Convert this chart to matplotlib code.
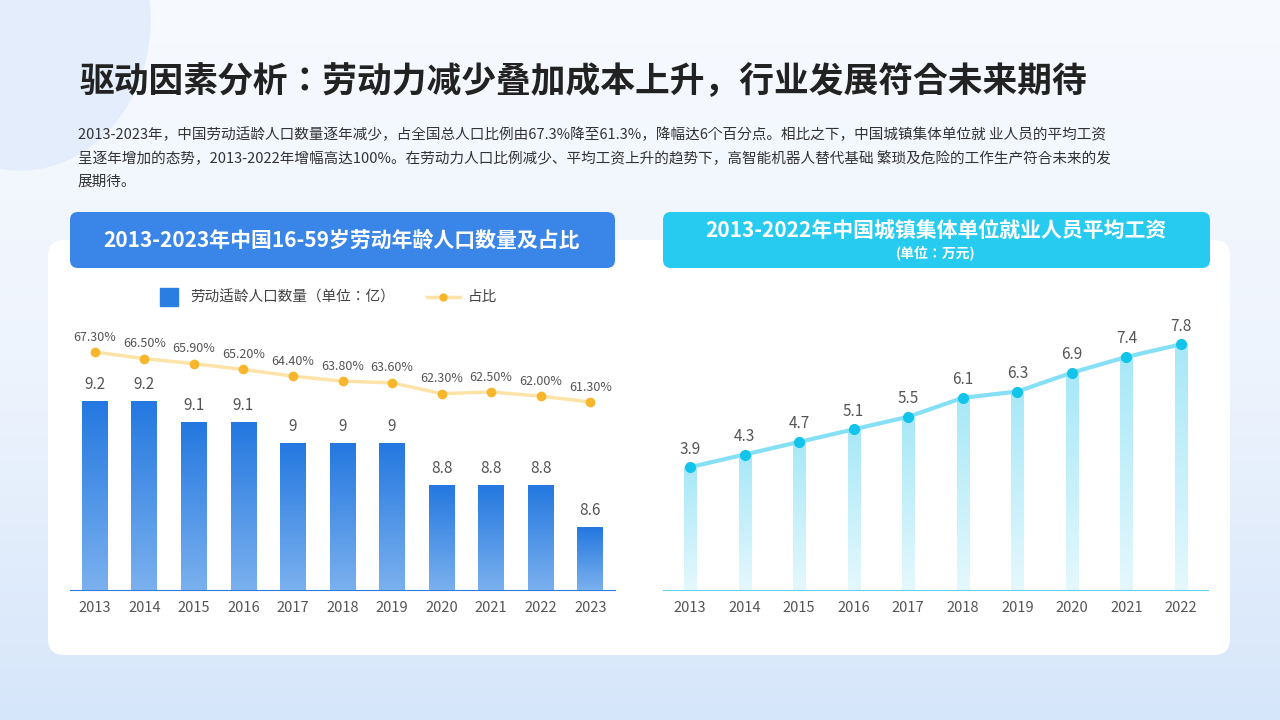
import matplotlib
matplotlib.use("Agg")
import matplotlib.pyplot as plt
import numpy as np
from matplotlib import font_manager as fm
from matplotlib.patches import FancyBboxPatch, Ellipse
from matplotlib.colors import LinearSegmentedColormap

cjk_name = None
for f in fm.findSystemFonts():
    if "CJK" in f or "cjk" in f.lower():
        try:
            fm.fontManager.addfont(f)
            nm = fm.FontProperties(fname=f).get_name()
            if cjk_name is None or "SC" in nm:
                cjk_name = nm
        except Exception:
            pass
fams = ["Noto Sans CJK SC", "Noto Sans CJK JP"]
if cjk_name:
    fams = [cjk_name] + fams
plt.rcParams["font.family"] = "sans-serif"
plt.rcParams["font.sans-serif"] = fams + ["DejaVu Sans"]

years_l = [2013, 2014, 2015, 2016, 2017, 2018, 2019, 2020, 2021, 2022, 2023]
pop = [9.2, 9.2, 9.1, 9.1, 9, 9, 9, 8.8, 8.8, 8.8, 8.6]
share = [67.3, 66.5, 65.9, 65.2, 64.4, 63.8, 63.6, 62.3, 62.5, 62.0, 61.3]
years_r = [2013, 2014, 2015, 2016, 2017, 2018, 2019, 2020, 2021, 2022]
wage = [3.9, 4.3, 4.7, 5.1, 5.5, 6.1, 6.3, 6.9, 7.4, 7.8]

title = "驱动因素分析：劳动力减少叠加成本上升，行业发展符合未来期待"
para = ("2013-2023年，中国劳动适龄人口数量逐年减少，占全国总人口比例由67.3%降至61.3%，降幅达6个百分点。相比之下，中国城镇集体单位就 业人员的平均工资\n"
        "呈逐年增加的态势，2013-2022年增幅高达100%。在劳动力人口比例减少、平均工资上升的趋势下，高智能机器人替代基础 繁琐及危险的工作生产符合未来的发\n"
        "展期待。")

W, H = 1280, 720
fig = plt.figure(figsize=(12.8, 7.2), dpi=100)

def box(x0, y0, x1, y1):
    return [x0 / W, 1 - y1 / H, (x1 - x0) / W, (y1 - y0) / H]

bg = fig.add_axes([0, 0, 1, 1], zorder=-10)
grad = np.linspace(0, 1, 256).reshape(-1, 1)
cm = LinearSegmentedColormap.from_list("bg", ["#f7faff", "#eef4fd", "#d6e6fa"])
bg.imshow(grad, aspect="auto", cmap=cm, extent=[0, W, H, 0])
bg.add_patch(Ellipse((20, 20), 260, 300, color="#e3edfb", zorder=1))
bg.add_patch(FancyBboxPatch((48, 240), 1182, 415, boxstyle="round,pad=0,rounding_size=16",
                            fc="white", ec="none", zorder=2))
bg.add_patch(FancyBboxPatch((70, 212), 545, 56, boxstyle="round,pad=0,rounding_size=8",
                            fc="#3a86e8", ec="none", zorder=3))
bg.add_patch(FancyBboxPatch((663, 212), 547, 56, boxstyle="round,pad=0,rounding_size=8",
                            fc="#27cbef", ec="none", zorder=3))
bg.set_xlim(0, W); bg.set_ylim(H, 0); bg.axis("off")

bg.text(80, 82, title, fontsize=25, fontweight="bold", color="#222222", va="center", zorder=5)
bg.text(78, 158, para, fontsize=10.5, color="#333333", va="center", linespacing=1.75, zorder=5)
bg.text(342, 240, "2013-2023年中国16-59岁劳动年龄人口数量及占比", fontsize=15, fontweight="bold",
        color="white", ha="center", va="center", zorder=5)
bg.text(936, 231, "2013-2022年中国城镇集体单位就业人员平均工资", fontsize=15, fontweight="bold",
        color="white", ha="center", va="center", zorder=5)
bg.text(936, 253, "(单位：万元)", fontsize=10, fontweight="bold", color="white",
        ha="center", va="center", zorder=5)

ax = fig.add_axes(box(70, 300, 615, 590), zorder=5)
ax.patch.set_alpha(0)
bars = ax.bar(years_l, pop, width=0.52, color="#2a7de1", zorder=3)
bcm = LinearSegmentedColormap.from_list("b", ["#2478e0", "#7ab0ee"])
for b in bars:
    x0, w, h = b.get_x(), b.get_width(), b.get_height()
    ax.imshow(np.linspace(0, 1, 100).reshape(-1, 1), extent=[x0, x0 + w, 8.3, h],
              aspect="auto", cmap=bcm, zorder=3)
    b.set_visible(False)
for x, v in zip(years_l, pop):
    ax.text(x, v + 0.04, f"{v:g}", ha="center", va="bottom", fontsize=11, color="#555555")
ax.set_xlim(2012.5, 2023.5)
ax.set_ylim(8.3, 8.3 + 290 / 210)
ax.set_yticks([])
ax.set_xticks(years_l)
ax.set_xticklabels([str(y) for y in years_l], fontsize=10.5, color="#555555")
ax.tick_params(axis="x", length=0, pad=8)
for s in ["top", "right", "left"]:
    ax.spines[s].set_visible(False)
ax.spines["bottom"].set_color("#2a7de1")

ax2 = ax.twinx()
ax2.plot(years_l, share, color="#fde3a8", lw=2.5, marker="o", ms=6,
         mfc="#f8b62d", mec="#f8b62d", zorder=4)
for x, v in zip(years_l, share):
    ax2.text(x, v + 1.0, f"{v:.2f}%", ha="center", va="bottom", fontsize=9, color="#555555")
ax2.set_ylim(61.3 - 188 / 8.33, 67.3 + 52 / 8.33)
ax2.axis("off")

bg.add_patch(plt.Rectangle((160, 288), 18, 18, color="#2a7de1", zorder=5))
bg.text(190, 297, "劳动适龄人口数量（单位：亿）", fontsize=10.5, color="#444444", va="center", zorder=5)
bg.plot([427, 460], [297, 297], color="#fde3a8", lw=2.5, zorder=5)
bg.plot([443], [297], "o", color="#f8b62d", ms=5, zorder=6)
bg.text(468, 297, "占比", fontsize=10.5, color="#444444", va="center", zorder=5)

ar = fig.add_axes(box(662.7, 300, 1208.3, 590), zorder=5)
ar.patch.set_alpha(0)
ccm = LinearSegmentedColormap.from_list("c", ["#a8e8f7", "#e4f8fd"])
for x, v in zip(years_r, wage):
    ar.imshow(np.linspace(0, 1, 100).reshape(-1, 1), extent=[x - 0.11, x + 0.11, 0, v],
              aspect="auto", cmap=ccm, zorder=2)
ar.plot(years_r, wage, color="#86e0f5", lw=3, marker="o", ms=7,
        mfc="#12c4ea", mec="#12c4ea", zorder=4)
for x, v in zip(years_r, wage):
    ar.text(x, v + 0.3, f"{v:g}", ha="center", va="bottom", fontsize=11, color="#555555")
ar.set_xlim(2012.5, 2022.5)
ar.set_ylim(0, 290 / 31.5)
ar.set_yticks([])
ar.set_xticks(years_r)
ar.set_xticklabels([str(y) for y in years_r], fontsize=10.5, color="#555555")
ar.tick_params(axis="x", length=0, pad=8)
for s in ["top", "right", "left"]:
    ar.spines[s].set_visible(False)
ar.spines["bottom"].set_color("#5fd3f0")

fig.savefig("out.png", dpi=100)
